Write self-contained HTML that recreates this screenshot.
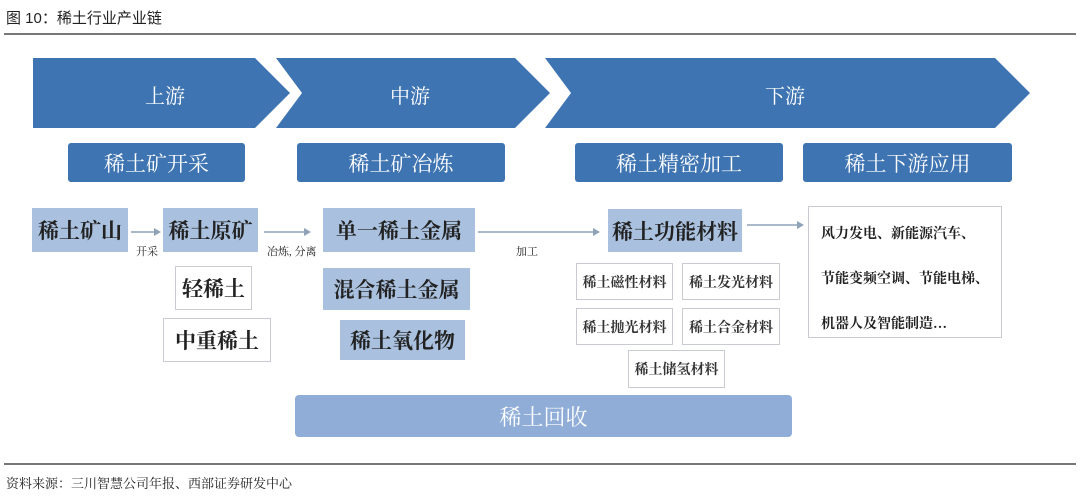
<!DOCTYPE html>
<html><head><meta charset="utf-8"><style>
body{margin:0;width:1080px;height:499px;background:#fff;position:relative;overflow:hidden;font-family:"Liberation Serif","Noto Serif CJK SC",serif;}
.a{position:absolute;box-sizing:border-box;display:flex;align-items:center;justify-content:center;white-space:nowrap;}
.hd{background:#3f74b2;color:#fff;font-size:21px;border-radius:3px;}
.lb{background:#a9c1de;color:#222;font-size:21px;font-weight:bold;}
.wb{background:#fff;border:1.5px solid #c8ccd2;color:#222;font-size:21px;font-weight:bold;}
.sb{background:#fff;border:1.5px solid #c8ccd2;color:#333;font-size:14px;font-weight:bold;}
.t{position:absolute;font-size:11px;color:#222;white-space:nowrap;}
</style></head><body>
<div style="position:absolute;left:6px;top:7px;font-size:15px;color:#222;font-family:'Liberation Sans','Noto Sans CJK SC',sans-serif;">图 10：稀土行业产业链</div>
<div style="position:absolute;left:4px;top:33px;width:1072px;height:2px;background:#777"></div>
<svg style="position:absolute;left:0;top:0" width="1080" height="499">
<polygon points="33,58 255,58 290,93 255,128 33,128" fill="#3f74b2"/>
<polygon points="276,58 515,58 550,93 515,128 276,128 302,93" fill="#3f74b2"/>
<polygon points="545,58 995,58 1030,93 995,128 545,128 571,93" fill="#3f74b2"/>
<g stroke="#8fa3b8" stroke-width="1.5" fill="#8fa3b8">
<line x1="131" y1="232" x2="155" y2="232"/><polygon points="161,232 154,228 154,236" stroke="none"/>
<line x1="264" y1="232" x2="305" y2="232"/><polygon points="311,232 304,228 304,236" stroke="none"/>
<line x1="478" y1="232" x2="593" y2="232"/><polygon points="600,232 593,228 593,236" stroke="none"/>
<line x1="747" y1="225" x2="797" y2="225"/><polygon points="804,225 797,221 797,229" stroke="none"/>
</g>
</svg>
<div class="a" style="left:110px;top:78px;width:110px;height:32px;color:#fff;font-size:20px">上游</div>
<div class="a" style="left:355px;top:78px;width:110px;height:32px;color:#fff;font-size:20px">中游</div>
<div class="a" style="left:730px;top:78px;width:110px;height:32px;color:#fff;font-size:20px">下游</div>
<div class="a hd" style="left:68px;top:143px;width:177px;height:39px">稀土矿开采</div>
<div class="a hd" style="left:297px;top:143px;width:208px;height:39px">稀土矿冶炼</div>
<div class="a hd" style="left:575px;top:143px;width:208px;height:39px">稀土精密加工</div>
<div class="a hd" style="left:803px;top:143px;width:209px;height:39px">稀土下游应用</div>
<div class="a lb" style="left:32px;top:208px;width:96px;height:44px">稀土矿山</div>
<div class="a lb" style="left:163px;top:208px;width:95px;height:44px">稀土原矿</div>
<div class="a lb" style="left:323px;top:208px;width:152px;height:44px">单一稀土金属</div>
<div class="a lb" style="left:608px;top:209px;width:134px;height:43px">稀土功能材料</div>
<div class="a lb" style="left:323px;top:268px;width:147px;height:42px">混合稀土金属</div>
<div class="a lb" style="left:340px;top:320px;width:125px;height:40px">稀土氧化物</div>
<div class="a wb" style="left:175px;top:266px;width:77px;height:44px">轻稀土</div>
<div class="a wb" style="left:163px;top:318px;width:108px;height:44px">中重稀土</div>
<div class="t" style="left:136px;top:243px">开采</div>
<div class="t" style="left:267px;top:243px">冶炼, 分离</div>
<div class="t" style="left:516px;top:243px">加工</div>
<div class="a sb" style="left:576px;top:263px;width:97px;height:37px">稀土磁性材料</div>
<div class="a sb" style="left:682px;top:263px;width:98px;height:37px">稀土发光材料</div>
<div class="a sb" style="left:576px;top:308px;width:97px;height:37px">稀土抛光材料</div>
<div class="a sb" style="left:682px;top:308px;width:98px;height:37px">稀土合金材料</div>
<div class="a sb" style="left:628px;top:350px;width:97px;height:38px">稀土储氢材料</div>
<div style="position:absolute;left:808px;top:206px;width:194px;height:132px;box-sizing:border-box;border:1.5px solid #c8ccd2;font-size:14px;font-weight:bold;color:#222;padding:5px 0 0 12px;line-height:45px;white-space:nowrap">风力发电、新能源汽车、<br>节能变频空调、节能电梯、<br>机器人及智能制造…</div>
<div class="a" style="left:295px;top:395px;width:497px;height:42px;background:#8fadd6;color:#fff;font-size:22px;border-radius:4px">稀土回收</div>
<div style="position:absolute;left:4px;top:463px;width:1072px;height:2px;background:#777"></div>
<div style="position:absolute;left:6px;top:473px;font-size:13px;color:#222">资料来源：三川智慧公司年报、西部证券研发中心</div>
</body></html>
